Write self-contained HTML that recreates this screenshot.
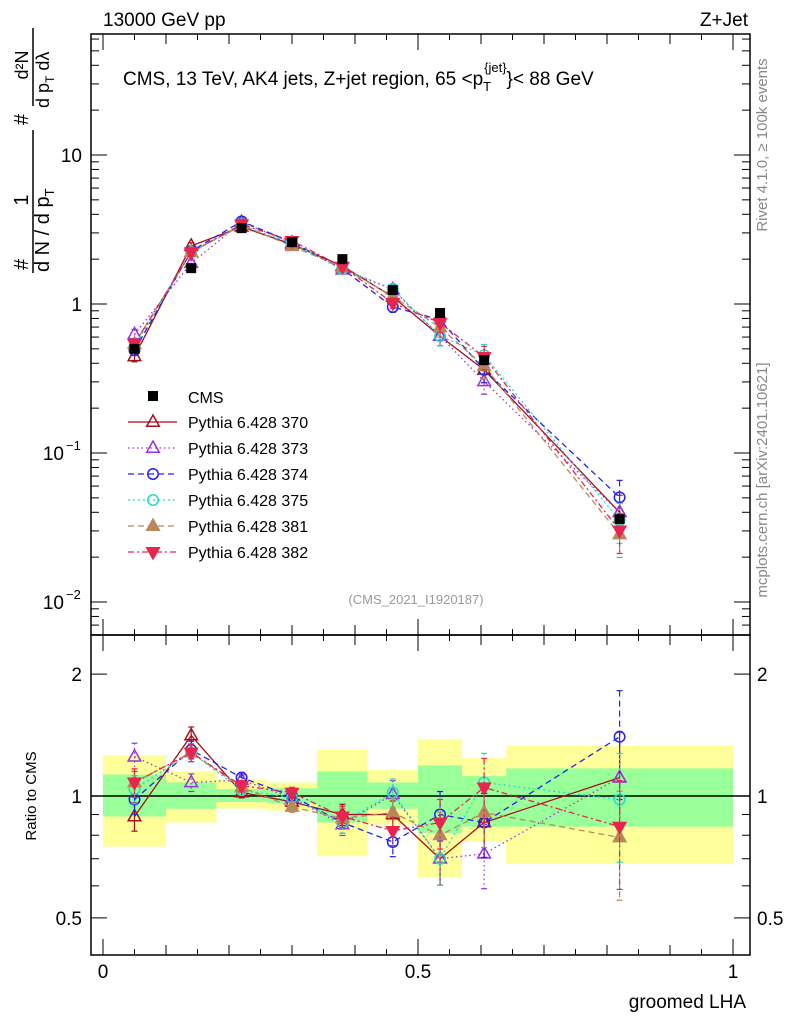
<!DOCTYPE html>
<html><head><meta charset="utf-8">
<style>
body{margin:0;background:#fff;}
svg{display:block;font-family:"Liberation Sans",sans-serif;}
</style></head>
<body>
<svg id="c" width="786" height="1024" viewBox="0 0 786 1024" xmlns="http://www.w3.org/2000/svg">
<text x="103" y="26" font-size="19">13000 GeV pp</text>
<text x="748" y="26" font-size="19" text-anchor="end">Z+Jet</text>
<text x="123" y="85" font-size="19">CMS, 13 TeV, AK4 jets, Z+jet region, 65 &lt;p<tspan font-size="13" dy="6">T</tspan><tspan font-size="13" dx="-7" dy="-19">{jet}</tspan><tspan dy="13">}&lt; 88 GeV</tspan></text>
<text x="416" y="604" font-size="13" fill="#999" text-anchor="middle">(CMS_2021_I1920187)</text>
<text transform="translate(767,145) rotate(-90)" font-size="15" fill="#888" text-anchor="middle">Rivet 4.1.0, ≥ 100k events</text>
<text transform="translate(767,480) rotate(-90)" font-size="15" fill="#888" text-anchor="middle">mcplots.cern.ch [arXiv:2401.10621]</text>
<g font-size="20">
<text transform="translate(28,270) rotate(-90)">#</text>
<text transform="translate(28,200) rotate(-90)" text-anchor="middle">1</text>
<line x1="33" y1="273" x2="33" y2="130" stroke="#000" stroke-width="1.5"/>
<text transform="translate(49,272) rotate(-90)">d N / d p<tspan font-size="13" dy="5">T</tspan></text>
<text transform="translate(28,125) rotate(-90)">#</text>
<text transform="translate(28,65) rotate(-90)" text-anchor="middle" font-size="18">d²N</text>
<line x1="33" y1="106" x2="33" y2="28" stroke="#000" stroke-width="1.5"/>
<text transform="translate(49,108) rotate(-90)" font-size="18">d p<tspan font-size="12" dy="5">T</tspan><tspan dy="-5"> dλ</tspan></text>
</g>
<text transform="translate(36,796) rotate(-90)" font-size="15" text-anchor="middle">Ratio to CMS</text>
<text x="746" y="1008" font-size="19" text-anchor="end">groomed LHA</text>
<g id="plot"></g>
</svg>
<script>
const xCenters=[0.05,0.14,0.22,0.30,0.38,0.46,0.535,0.605,0.82];
const binEdges=[0,0.1,0.18,0.26,0.34,0.42,0.5,0.57,0.64,1.0];
const cmsValues=[0.50,1.74,3.23,2.6,2.0,1.24,0.87,0.42,0.036];
const bandYellowHi=[1.26,1.15,1.10,1.08,1.30,1.16,1.38,1.24,1.33];
const bandYellowLo=[0.75,0.86,0.93,0.92,0.71,0.85,0.63,0.77,0.68];
const bandGreenHi=[1.13,1.08,1.04,1.045,1.15,1.08,1.19,1.12,1.17];
const bandGreenLo=[0.89,0.93,0.967,0.96,0.86,0.93,0.81,0.84,0.84];
const ratio370=[0.89,1.41,1.02,0.967,0.90,0.90,0.70,0.86,1.11];
const ratio373=[1.25,1.08,1.095,0.99,0.85,1.01,0.70,0.72,1.11];
const ratio374=[0.98,1.30,1.11,1.0,0.86,0.77,0.90,0.86,1.40];
const ratio375=[1.04,1.28,1.035,0.99,0.86,1.02,0.70,1.08,0.98];
const ratio381=[1.08,1.28,1.05,0.94,0.88,0.91,0.80,0.91,0.79];
const ratio382=[1.08,1.28,1.06,1.02,0.89,0.82,0.86,1.05,0.84];
const relErr=[0.08,0.05,0.03,0.03,0.06,0.08,0.14,0.18,0.30];
const seriesNames=["Pythia 6.428 370","Pythia 6.428 373","Pythia 6.428 374","Pythia 6.428 375","Pythia 6.428 381","Pythia 6.428 382"];

const NS="http://www.w3.org/2000/svg";
const g=document.getElementById('plot');
function el(t,a,p){const e=document.createElementNS(NS,t);for(const k in a)e.setAttribute(k,a[k]);(p||g).appendChild(e);return e;}
const L=91,R=750,T=34,MB=635,B=955;
const X=v=>103+v*630;
const YM=v=>155-(Math.log10(v)-1)*149;
const YR=v=>796-Math.log10(v)*405;
const styles=[
 {c:"#a30f1c",d:"",m:"tri",f:false,r:ratio370},
 {c:"#9933dd",d:"1.5,3",m:"tri",f:false,r:ratio373},
 {c:"#2222ee",d:"6,4",m:"circ",f:false,r:ratio374},
 {c:"#22ddc8",d:"2,3",m:"circ",f:false,r:ratio375},
 {c:"#b8885a",d:"6,4",m:"tri",f:true,r:ratio381},
 {c:"#e8254f",d:"6,3,2,3",m:"tdown",f:true,r:ratio382}];
function marker(m,x,y,c,f,s,parent){
 let e;
 if(m=="tri")e=el('polygon',{points:`${x},${y-s} ${x-s*0.9},${y+s*0.6} ${x+s*0.9},${y+s*0.6}`,fill:f?c:'none',stroke:c,'stroke-width':1.5},parent);
 else if(m=="tdown")e=el('polygon',{points:`${x},${y+s} ${x-s*0.9},${y-s*0.6} ${x+s*0.9},${y-s*0.6}`,fill:f?c:'none',stroke:c,'stroke-width':1.5},parent);
 else if(m=="circ")e=el('circle',{cx:x,cy:y,r:s*0.75,fill:'none',stroke:c,'stroke-width':1.5},parent);
 else e=el('rect',{x:x-5,y:y-5,width:10,height:10,fill:c},parent);
 return e;
}
const bands=el('g',{});


for(let i=0;i<xCenters.length;i++){
 const r=el('rect',{x:X(binEdges[i]),y:YR(bandYellowHi[i]),width:X(binEdges[i+1])-X(binEdges[i]),height:YR(bandYellowLo[i])-YR(bandYellowHi[i]),fill:'#ffff99'},bands);
 
 
 const r2=el('rect',{x:X(binEdges[i]),y:YR(bandGreenHi[i]),width:X(binEdges[i+1])-X(binEdges[i]),height:YR(bandGreenLo[i])-YR(bandGreenHi[i]),fill:'#99ff99'},bands);
 
 
}
el('line',{x1:L,x2:R,y1:YR(1),y2:YR(1),stroke:'#000','stroke-width':1.5});
styles.forEach((s,k)=>{
 const sg=el('g',{});
 
 
 const main=s.r.map((r,i)=>r*cmsValues[i]);
 const ptsM=xCenters.map((x,i)=>X(x)+','+YM(main[i])).join(' ');
 const ptsR=xCenters.map((x,i)=>X(x)+','+YR(s.r[i])).join(' ');
 el('polyline',{points:ptsM,fill:'none',stroke:s.c,'stroke-width':1.3,'stroke-dasharray':s.d},sg);
 el('polyline',{points:ptsR,fill:'none',stroke:s.c,'stroke-width':1.3,'stroke-dasharray':s.d},sg);
 xCenters.forEach((x,i)=>{
  const e=relErr[i];
  [[YM(main[i]*(1+e)),YM(main[i]*(1-e))],[YR(s.r[i]*(1+e)),YR(s.r[i]*(1-e))]].forEach(([a,b])=>{
   el('line',{x1:X(x),x2:X(x),y1:a,y2:b,stroke:s.c,'stroke-width':1.2,'stroke-dasharray':s.d},sg);
   el('line',{x1:X(x)-3,x2:X(x)+3,y1:a,y2:a,stroke:s.c,'stroke-width':1.2},sg);
   el('line',{x1:X(x)-3,x2:X(x)+3,y1:b,y2:b,stroke:s.c,'stroke-width':1.2},sg);
  });
  const m1=marker(s.m,X(x),YM(main[i]),s.c,s.f,7,sg);
  
  
  const m2=marker(s.m,X(x),YR(s.r[i]),s.c,s.f,7,sg);
  
  
 });
});
const cg=el('g',{});


xCenters.forEach((x,i)=>{
 const m=marker('sq',X(x),YM(cmsValues[i]),'#000',true,5,cg);
 
 
});
el('rect',{x:L,y:T,width:R-L,height:MB-T,fill:'none',stroke:'#000','stroke-width':1.5});
el('rect',{x:L,y:MB,width:R-L,height:B-MB,fill:'none',stroke:'#000','stroke-width':1.5});
for(let d=-3;d<=1;d++)for(let k=1;k<=9;k++){
 const v=k*Math.pow(10,d);const y=YM(v);if(y<T||y>MB)continue;
 const len=k==1?16:8;
 el('line',{x1:L,x2:L+len,y1:y,y2:y,stroke:'#000'});
 el('line',{x1:R,x2:R-len,y1:y,y2:y,stroke:'#000'});
}
[[10,"10"],[1,"1"]].forEach(([v,t])=>{const e=el('text',{x:82,y:YM(v)+7,'font-size':19,'text-anchor':'end'});e.textContent=t;
 
 });
[[0.1,"−1"],[0.01,"−2"]].forEach(([v,t])=>{const e=el('text',{x:64,y:YM(v)+7,'font-size':19,'text-anchor':'end'});e.textContent="10";
 
 
 const s=el('text',{x:66,y:YM(v)-3,'font-size':13});s.textContent=t;});
for(let d=-1;d<=0;d++)for(let k=1;k<=9;k++){
 const v=k*Math.pow(10,d);const y=YR(v);if(y<MB||y>B)continue;
 const len=(v==1||v==2||v==0.5)?16:8;
 el('line',{x1:L,x2:L+len,y1:y,y2:y,stroke:'#000'});
 el('line',{x1:R,x2:R-len,y1:y,y2:y,stroke:'#000'});
}
[[2,"2"],[1,"1"],[0.5,"0.5"]].forEach(([v,t])=>{
 const a=el('text',{x:82,y:YR(v)+7,'font-size':19,'text-anchor':'end'});a.textContent=t;
 
 
 const b=el('text',{x:757,y:YR(v)+7,'font-size':19});b.textContent=t;
 
 
});
for(let i=0;i<=20;i++){
 const v=i*0.05;const x=X(v);
 const len=i%10==0?16:(i%2==0?10:6);
 [[T,1],[MB,-1],[MB,1],[B,-1]].forEach(([y0,s])=>el('line',{x1:x,x2:x,y1:y0,y2:y0+s*len,stroke:'#000'}));
}
[[0,"0"],[0.5,"0.5"],[1,"1"]].forEach(([v,t])=>{const e=el('text',{x:X(v),y:978,'font-size':19,'text-anchor':'middle'});e.textContent=t;
 
 });
const lg=el('g',{});


const ce=el('rect',{x:148,y:391,width:10,height:10,fill:'#000'},lg);
const ct=el('text',{x:188,y:403,'font-size':16},lg);ct.textContent="CMS";


styles.forEach((s,k)=>{
 const y=422+k*26;
 el('line',{x1:128,x2:177,y1:y,y2:y,stroke:s.c,'stroke-width':1.3,'stroke-dasharray':s.d},lg);
 marker(s.m,153,y,s.c,s.f,7,lg);
 const t=el('text',{x:188,y:y+6,'font-size':16},lg);t.textContent=seriesNames[k];
 
 
});
</script>
</body></html>
